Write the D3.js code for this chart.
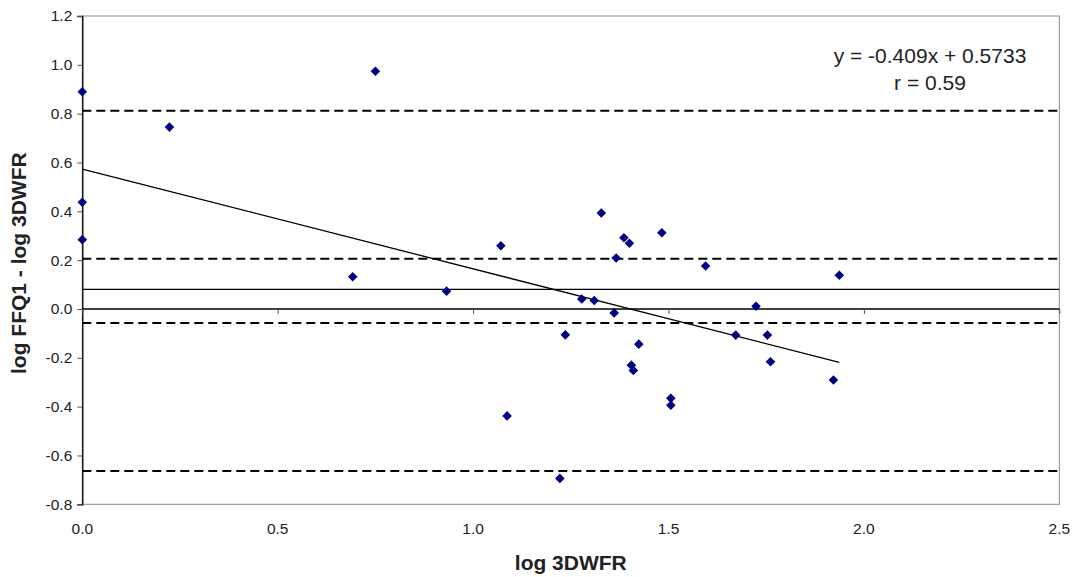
<!DOCTYPE html>
<html>
<head>
<meta charset="utf-8">
<script src="https://cdn.jsdelivr.net/npm/d3@7"></script>
<style>
  body { margin: 0; background: #fff; }
  text { font-family: "Liberation Sans", Arial, sans-serif; fill: #222; }
</style>
</head>
<body>
<div id="chart"></div>
<script>
// log 3DWFR (x) vs. log FFQ1 - log 3DWFR (y)
var xVals = [0, 0, 0, 0.223, 0.692, 0.750, 0.932, 1.071, 1.087, 1.222, 1.236, 1.278, 1.310, 1.328,
             1.361, 1.366, 1.386, 1.400, 1.405, 1.410, 1.424, 1.483, 1.506, 1.506, 1.595, 1.672,
             1.724, 1.753, 1.761, 1.922, 1.937];
var yVals = [0.890, 0.437, 0.284, 0.745, 0.132, 0.974, 0.073, 0.259, -0.438, -0.694, -0.106, 0.041, 0.035, 0.393,
             -0.016, 0.209, 0.292, 0.269, -0.230, -0.252, -0.144, 0.312, -0.366, -0.394, 0.176, -0.107,
             0.011, -0.107, -0.216, -0.291, 0.138];
var dashedLines = [0.812, 0.206, -0.057, -0.664];
var meanLine = 0.080;
var slope = -0.409, intercept = 0.5733;
var xTicks = [0, 0.5, 1.0, 1.5, 2.0, 2.5];
var yTicks = [-0.8, -0.6, -0.4, -0.2, 0, 0.2, 0.4, 0.6, 0.8, 1.0, 1.2];
var equationText = "y = -0.409x + 0.5733";
var rText = "r = 0.59";

var width = 1078, height = 577;
var margin = {left: 82.3, right: 18.7, top: 16, bottom: 72.7};

var svg = d3.select("#chart").append("svg")
    .attr("width", width)
    .attr("height", height);

var x = d3.scaleLinear().domain([0, 2.5]).range([margin.left, width - margin.right]);
var y = d3.scaleLinear().domain([-0.8, 1.2]).range([height - margin.bottom, margin.top]);

// plot frame
svg.append("rect")
    .attr("x", x(0)).attr("y", y(1.2))
    .attr("width", x(2.5) - x(0)).attr("height", y(-0.8) - y(1.2))
    .attr("fill", "none").attr("stroke", "#8c8c8c").attr("stroke-width", 1);

// reference lines
svg.selectAll("line.dash").data(dashedLines).enter()
    .append("line").attr("class", "dash")
    .attr("x1", x(0)).attr("x2", x(2.5))
    .attr("y1", function(d) { return y(d); })
    .attr("y2", function(d) { return y(d); })
    .attr("stroke", "#000").attr("stroke-width", 2)
    .attr("stroke-dasharray", "9,5");

svg.append("line")
    .attr("x1", x(0)).attr("x2", x(2.5))
    .attr("y1", y(meanLine)).attr("y2", y(meanLine))
    .attr("stroke", "#000").attr("stroke-width", 1.3);

// y axis
var yAxis = d3.axisLeft(y).tickValues(yTicks).tickSize(5).tickPadding(5)
    .tickFormat(d3.format(".1f"));
var gy = svg.append("g").attr("transform", "translate(" + x(0) + ",0)").call(yAxis);
gy.select(".domain").attr("stroke", "#000").attr("stroke-width", 1.3);
gy.selectAll(".tick line").attr("stroke", "#555");
gy.selectAll(".tick text").style("font-size", "15.5px").attr("fill", "#222")
    .text(function(d) { return d3.format(".1f")(d).replace("−", "-"); });

// x axis along y = 0, labels at bottom
var xAxis = d3.axisBottom(x).tickValues(xTicks).tickSize(5).tickFormat("");
var gx = svg.append("g").attr("transform", "translate(0," + y(0) + ")").call(xAxis);
gx.select(".domain").attr("stroke", "#000").attr("stroke-width", 1.3).attr("d", "M" + x(0) + ",0H" + x(2.5));
gx.selectAll(".tick line").attr("stroke", "#555");

svg.selectAll("text.xtick").data(xTicks).enter()
    .append("text").attr("class", "xtick")
    .attr("x", function(d) { return x(d); })
    .attr("y", 534)
    .attr("text-anchor", "middle")
    .style("font-size", "15.5px")
    .text(function(d) { return d3.format(".1f")(d); });

// regression line
var xExt = d3.extent(xVals);
svg.append("line")
    .attr("x1", x(xExt[0])).attr("y1", y(slope * xExt[0] + intercept))
    .attr("x2", x(xExt[1])).attr("y2", y(slope * xExt[1] + intercept))
    .attr("stroke", "#000").attr("stroke-width", 1.3);

// points
var pts = xVals.map(function(v, i) { return {x: v, y: yVals[i]}; });
svg.selectAll("path.pt").data(pts).enter()
    .append("path").attr("class", "pt")
    .attr("d", d3.symbol().type(d3.symbolSquare).size(46))
    .attr("transform", function(d) {
        return "translate(" + x(d.x) + "," + y(d.y) + ") rotate(45)";
    })
    .attr("fill", "#000080");

// equation
svg.append("text")
    .attr("x", 930).attr("y", 63)
    .attr("text-anchor", "middle")
    .style("font-size", "21px")
    .text(equationText);
svg.append("text")
    .attr("x", 930).attr("y", 90)
    .attr("text-anchor", "middle")
    .style("font-size", "21px")
    .text(rText);

// axis titles
svg.append("text")
    .attr("x", (x(0) + x(2.5)) / 2).attr("y", 570)
    .attr("text-anchor", "middle")
    .style("font-size", "21px").style("font-weight", "bold")
    .text("log 3DWFR");
svg.append("text")
    .attr("transform", "translate(26," + ((y(1.2) + y(-0.8)) / 2 + 3) + ") rotate(-90)")
    .attr("text-anchor", "middle")
    .style("font-size", "21px").style("font-weight", "bold")
    .text("log FFQ1 - log 3DWFR");
</script>
</body>
</html>
